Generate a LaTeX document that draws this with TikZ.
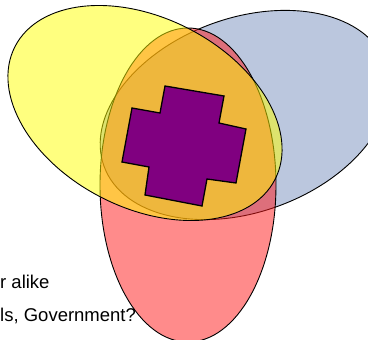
\documentclass[tikz,border=0pt]{standalone}
\usepackage{fontspec}
\setmainfont{Liberation Sans}
\usetikzlibrary{positioning}

\definecolor{vennblue}{RGB}{120,145,190}
\definecolor{vennred}{RGB}{255,25,25}
\definecolor{vennyellow}{RGB}{255,255,0}
\definecolor{crosspurple}{RGB}{128,0,128}

\tikzset{
  venn/.style={draw=black, line width=0.9pt, fill opacity=0.5},
  crossbox/.style={draw=black, line width=1.3pt, fill=crosspurple, line join=miter},
  note/.style={anchor=base west, inner sep=0pt, font=\fontsize{18.5}{22}\selectfont}
}

\begin{document}
\begin{tikzpicture}[x=1pt,y=-1pt]
\useasboundingbox (0,0) rectangle (368,340);
\fill[white] (0,0) rectangle (368,340);
\clip (0,0) rectangle (368,340);
\coordinate (blue) at (245,115);
\coordinate (red) at (188,185);
\coordinate (yellow) at (145,113);
\draw[venn, fill=vennblue, rotate around={20:(blue)}] (blue) ellipse [x radius=150pt, y radius=97pt];
\draw[venn, fill=vennred] (red) ellipse [x radius=88pt, y radius=157pt];
\draw[venn, fill=vennyellow, rotate around={-27:(yellow)}] (yellow) ellipse [x radius=146pt, y radius=95pt];
\draw[crossbox] (165,86) -- (224,96) -- (219,123) -- (246,129) -- (236,183) -- (207,179)
  -- (202,206) -- (145,195) -- (149,167) -- (122,162) -- (132,108) -- (160,113) -- cycle;
\node[note] (alike) at (0,288) {r alike};
\node[note] (govt) at (0,321) {ls, Government?};
\end{tikzpicture}
\end{document}
